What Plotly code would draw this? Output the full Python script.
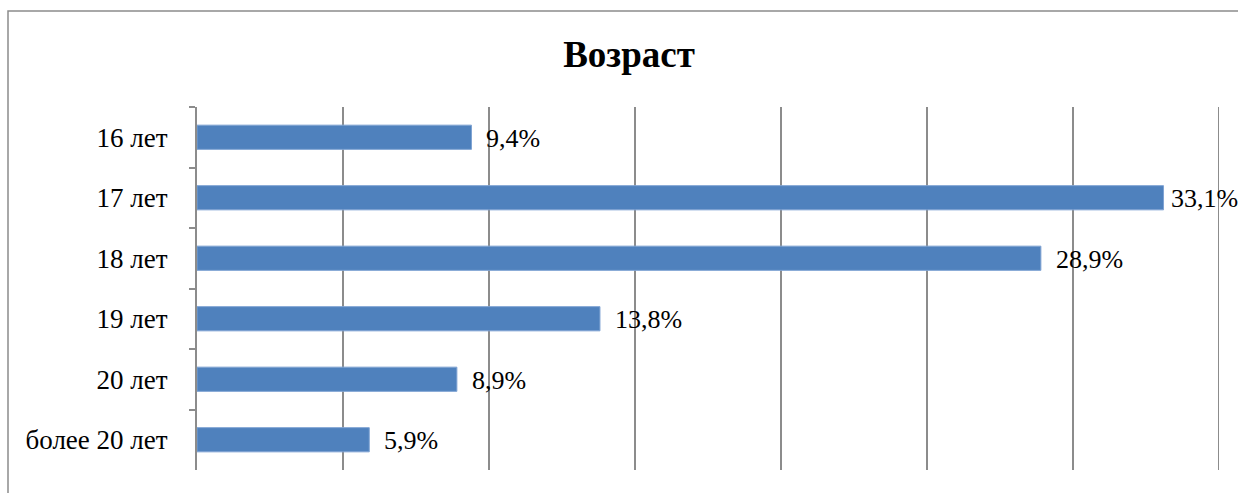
import plotly.graph_objects as go

categories = ["16 лет", "17 лет", "18 лет", "19 лет", "20 лет", "более 20 лет"]
values = [9.4, 33.1, 28.9, 13.8, 8.9, 5.9]
title_text = "Возраст"
x_max = 35
x_step = 5

labels = [f"{v:.1f}".replace(".", ",") + "%" for v in values]

W, H = 1238, 493
L, R, T, B = 197, 19, 107, 23
pw, ph = W - L - R, H - T - B

GRAY = "#8c8c8c"
FONT = "Liberation Serif, Tinos, 'Times New Roman', 'DejaVu Serif', serif"
LABEL_SIZE = 26
LABEL_W = 68  # approx. pixel width of the widest value label

fig = go.Figure()
fig.add_trace(go.Bar(
    x=values, y=categories, orientation="h",
    marker=dict(color="#4F81BD", line=dict(color="#7FA3D3", width=1)),
    width=0.4, hoverinfo="skip",
))

for c, v, t in zip(categories, values, labels):
    bar_end_px = L + v / x_max * pw
    shift = min(13, W - 1 - LABEL_W - bar_end_px)
    fig.add_annotation(x=v, y=c, text=t, showarrow=False, xanchor="left",
                       xshift=shift, yshift=-1,
                       font=dict(family=FONT, size=LABEL_SIZE, color="black"))

# last vertical gridline at the end of the range
fig.add_shape(type="line", xref="x", yref="paper", x0=x_max, x1=x_max, y0=0, y1=1,
              line=dict(color=GRAY, width=2), layer="below")

# outer chart frame
fx0 = (8 - L) / pw
fy1 = 1 + (T - 11) / ph
fig.add_shape(type="rect", xref="paper", yref="paper", x0=fx0, x1=1.2, y0=-0.3, y1=fy1,
              line=dict(color=GRAY, width=1.5), fillcolor="rgba(0,0,0,0)")

fig.update_layout(
    width=W, height=H,
    margin=dict(l=L, r=R, t=T, b=B),
    paper_bgcolor="white", plot_bgcolor="white",
    showlegend=False,
    font=dict(family=FONT),
    title=dict(text=f"<b>{title_text}</b>", x=629 / W, xanchor="center",
               y=1 - 54 / H, yanchor="middle",
               font=dict(family=FONT, size=37, color="black")),
    xaxis=dict(range=[0, x_max], dtick=x_step, tick0=0, showgrid=True,
               gridcolor=GRAY, gridwidth=2, showticklabels=False, zeroline=False,
               showline=False, ticks=""),
    yaxis=dict(autorange="reversed", showline=True, linecolor=GRAY, linewidth=2,
               ticks="outside", tickson="boundaries", ticklen=6, tickcolor=GRAY,
               tickwidth=2, showgrid=False, ticklabelstandoff=22, automargin=False,
               tickfont=dict(family=FONT, size=27, color="black")),
)

fig.write_html("out.html", config={"displayModeBar": False},
               post_script="document.body.style.margin='0';document.body.style.overflow='hidden';")
